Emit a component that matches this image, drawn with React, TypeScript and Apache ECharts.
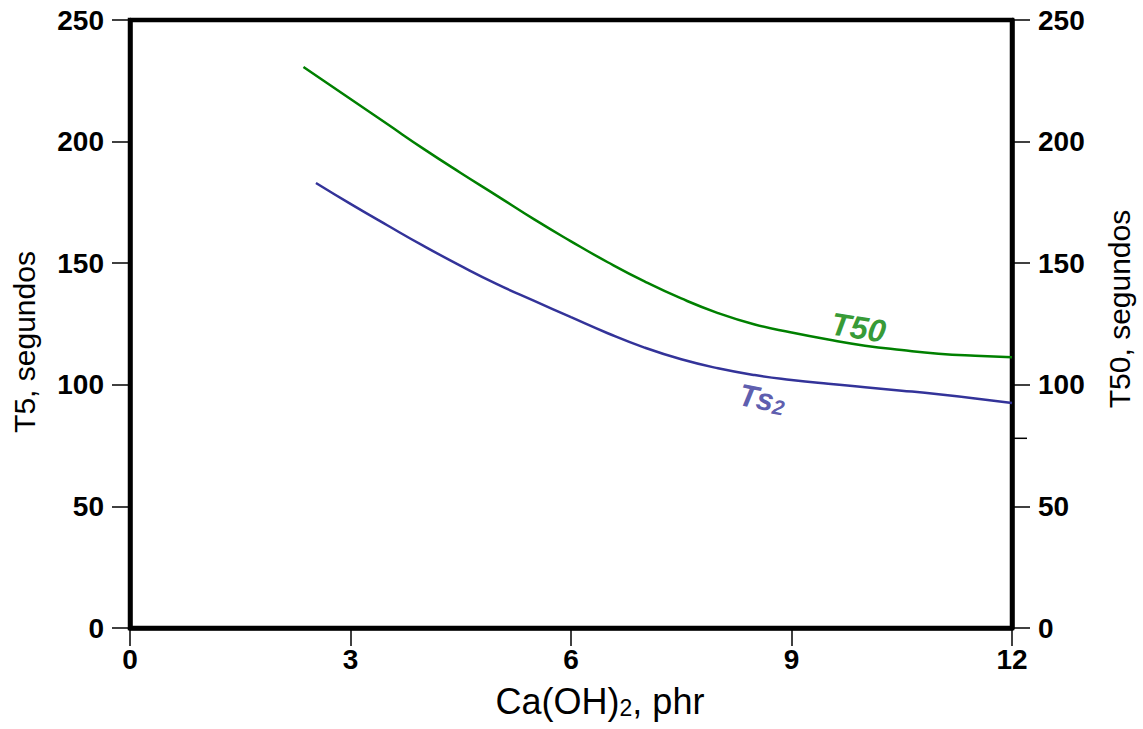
import React, { useEffect, useRef } from 'react';
import * as echarts from 'echarts';

// Ca(OH)2 (phr) vs time (s)
const t50Curve: [number, number][] = [
  [2.36, 230.7], [3, 217.5], [3.5, 207.2], [4, 196.9], [4.5, 187.1], [5, 177.6],
  [5.5, 168.0], [6, 159.0], [6.5, 150.4], [7, 142.5], [7.5, 135.5], [8, 129.5],
  [8.5, 124.8], [9, 121.5], [9.5, 118.6], [10, 116.1], [10.5, 114.3], [11, 112.8],
  [11.5, 111.9], [12, 111.3],
];
const ts2Curve: [number, number][] = [
  [2.53, 183.0], [3, 174.4], [3.5, 165.6], [4, 157.0], [4.5, 148.9], [5, 141.3],
  [5.5, 134.5], [6, 127.8], [6.5, 121.2], [7, 115.3], [7.5, 110.5], [8, 106.8],
  [8.5, 104.0], [9, 102.0], [9.5, 100.4], [10, 99.0], [10.5, 97.6], [11, 96.1],
  [11.5, 94.4], [12, 92.5],
];
const t50LabelAt: [number, number][] = [[9.91, 123.5]];
const ts2LabelAt: [number, number][] = [[8.6, 94.2]];
const extraRightTick: [number, number][] = [[12, 78]];

const xMin = 0, xMax = 12, xStep = 3;
const yMin = 0, yMax = 250, yStep = 50;

const FONT = '"Liberation Sans", Arial, Helvetica, sans-serif';
const GREEN = '#008000';
const BLUE = '#333399';

export default function App() {
  const ref = useRef<HTMLDivElement>(null);
  useEffect(() => {
    const chart = echarts.init(ref.current!, null, { renderer: 'svg' });
    const axisCommon = {
      axisLine: { show: true, lineStyle: { color: '#000', width: 4.5 } },
      axisTick: { show: true, length: 18, lineStyle: { color: '#000', width: 1.5 } },
      splitLine: { show: false },
    };
    const tickLabel = { color: '#000', fontSize: 28, fontWeight: 'bold', fontFamily: FONT };
    chart.setOption({
      animation: false,
      grid: {
        left: 130, right: 131, top: 20, bottom: 101,
        show: true, borderColor: '#000', borderWidth: 4.5, backgroundColor: 'transparent',
      },
      xAxis: {
        type: 'value', min: xMin, max: xMax, interval: xStep,
        ...axisCommon,
        axisLabel: { ...tickLabel, margin: 17 },
      },
      yAxis: [
        {
          type: 'value', min: yMin, max: yMax, interval: yStep, position: 'left',
          ...axisCommon,
          axisLabel: { ...tickLabel, margin: 26 },
        },
        {
          type: 'value', min: yMin, max: yMax, interval: yStep, position: 'right',
          ...axisCommon,
          axisLabel: { ...tickLabel, margin: 26 },
        },
      ],
      graphic: [
        {
          type: 'text', x: 24, y: 342, rotation: Math.PI / 2,
          style: { text: 'T5, segundos', fontSize: 30, fontFamily: FONT, fill: '#000', align: 'center', verticalAlign: 'middle' },
        },
        {
          type: 'text', x: 1119, y: 309, rotation: Math.PI / 2,
          style: { text: 'T50, segundos', fontSize: 30, fontFamily: FONT, fill: '#000', align: 'center', verticalAlign: 'middle' },
        },
        {
          type: 'text', x: 600, y: 701,
          style: {
            text: '{a|Ca(OH)}{b|2}{a|, phr}',
            align: 'center', verticalAlign: 'middle',
            rich: {
              a: { fontSize: 36, lineHeight: 36, fontFamily: FONT, fill: '#000' },
              b: { fontSize: 23, lineHeight: 10, fontFamily: FONT, fill: '#000', verticalAlign: 'bottom' },
            },
          },
        },
      ],
      series: [
        {
          name: 'T50', type: 'line', data: t50Curve, smooth: 0.5, showSymbol: false,
          lineStyle: { color: GREEN, width: 2.5 }, itemStyle: { color: GREEN },
        },
        {
          name: 'Ts2', type: 'line', data: ts2Curve, smooth: 0.5, showSymbol: false,
          lineStyle: { color: BLUE, width: 2.5 }, itemStyle: { color: BLUE },
        },
        {
          type: 'scatter', data: t50LabelAt, symbolSize: 1, itemStyle: { color: 'transparent' },
          label: {
            show: true, position: 'inside', rotate: -9, formatter: 'T50',
            color: GREEN, fontSize: 32, fontWeight: 'bold', fontStyle: 'italic', fontFamily: FONT,
          },
        },
        {
          type: 'scatter', data: ts2LabelAt, symbolSize: 1, itemStyle: { color: 'transparent' },
          label: {
            show: true, position: 'inside', rotate: -11, formatter: '{a|Ts}{b|2}',
            rich: {
              a: { color: BLUE, fontSize: 31, lineHeight: 31, fontWeight: 'bold', fontStyle: 'italic', fontFamily: FONT },
              b: { color: BLUE, fontSize: 21, lineHeight: 7, fontWeight: 'bold', fontStyle: 'italic', fontFamily: FONT, verticalAlign: 'bottom' },
            },
          },
        },
        {
          type: 'custom', yAxisIndex: 1, data: extraRightTick, clip: false, silent: true,
          renderItem: (params: any, api: any) => {
            const p = api.coord([api.value(0), api.value(1)]);
            return {
              type: 'line',
              shape: { x1: p[0], y1: p[1], x2: p[0] + 15, y2: p[1] },
              style: { stroke: '#000', lineWidth: 1.5 },
            };
          },
        },
      ],
    });
    return () => chart.dispose();
  }, []);
  return (
    <div
      ref={ref}
      style={{ position: 'absolute', left: 0, top: 0, width: 1143, height: 729, background: '#fff' }}
    />
  );
}
